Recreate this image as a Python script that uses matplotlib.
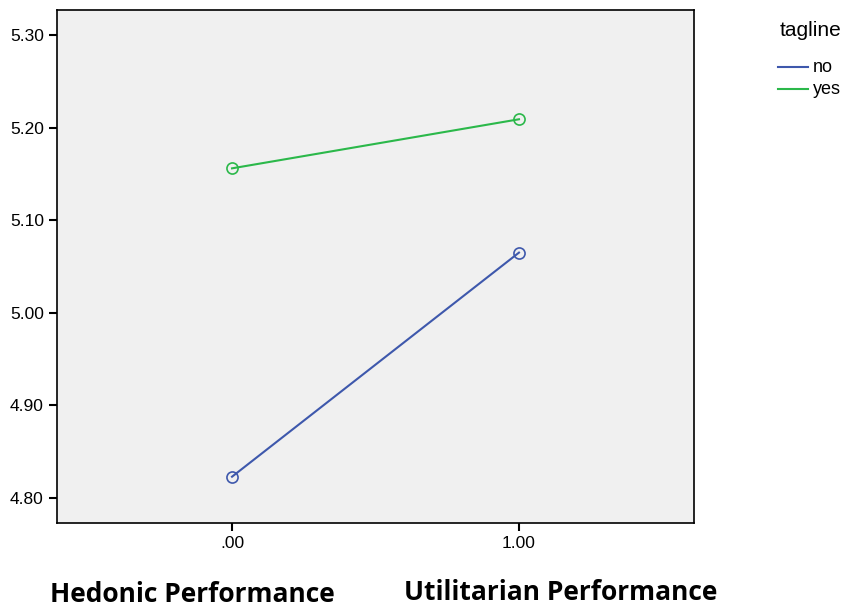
import matplotlib
matplotlib.use("Agg")
import matplotlib.pyplot as plt
from matplotlib.lines import Line2D

# data
x_vals = [0.0, 1.0]
x_labels = [".00", "1.00"]
no_vals = [4.823, 5.065]
yes_vals = [5.156, 5.209]
y_ticks = [4.80, 4.90, 5.00, 5.10, 5.20, 5.30]
legend_labels = ["no", "yes"]

blue = "#3e58ac"
green = "#2bb84a"

plt.rcParams["font.family"] = ["Liberation Sans", "DejaVu Sans"]

W, H = 844, 607
fig = plt.figure(figsize=(W / 100, H / 100), dpi=100)
ax = fig.add_axes([57 / W, 1 - 523 / H, (694 - 57) / W, (523 - 10) / H])
ax.set_facecolor("#f0f0f0")

ax.plot(x_vals, no_vals, color=blue, lw=1.5, marker="o", ms=8,
        mfc="none", mec=blue, mew=1.2)
ax.plot(x_vals, yes_vals, color=green, lw=1.5, marker="o", ms=8,
        mfc="none", mec=green, mew=1.2)

ax.set_xlim(-0.61, 1.61)
ax.set_ylim(4.773, 5.327)
ax.set_xticks(x_vals)
ax.set_xticklabels(x_labels)
ax.set_yticks(y_ticks)
ax.set_yticklabels([f"{v:.2f}" for v in y_ticks])
ax.tick_params(direction="out", length=6, width=1.5, labelsize=12.5, color="black")
for s in ax.spines.values():
    s.set_linewidth(1.2)

# legend drawn by hand outside the plot area
fig.text(780 / W, 1 - 31 / H, "tagline", fontsize=15, va="center", ha="left")
for i, (lab, col) in enumerate(zip(legend_labels, [blue, green])):
    yy = 1 - (67 + 22 * i) / H
    fig.add_artist(Line2D([778 / W, 808 / W], [yy, yy], color=col, lw=1.5))
    fig.text(813 / W, yy, lab, fontsize=13, va="center", ha="left")

# category labels under the axis
fig.text(192 / W, 1 - 594 / H, "Hedonic Performance", fontsize=19,
         fontweight="bold", family=["Open Sans", "DejaVu Sans"], ha="center", va="center")
fig.text(561 / W, 1 - 592 / H, "Utilitarian Performance", fontsize=19,
         fontweight="bold", family=["Open Sans", "DejaVu Sans"], ha="center", va="center")

fig.savefig("out.png", dpi=100)
